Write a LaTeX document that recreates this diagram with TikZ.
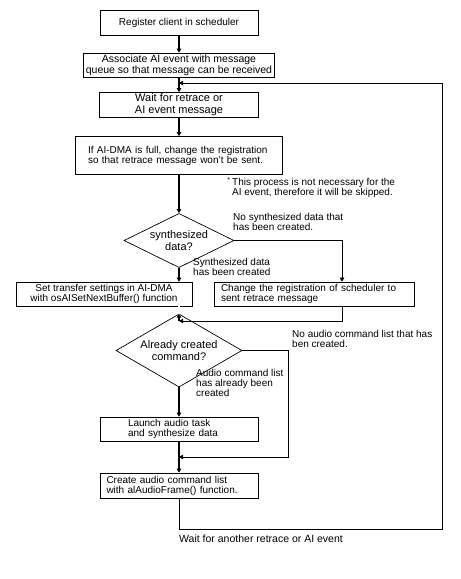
\documentclass[tikz,border=0pt]{standalone}
\usepackage{fontspec}
\setmainfont{Liberation Sans}
\usetikzlibrary{shapes.geometric, arrows.meta}

\begin{document}
\begin{tikzpicture}[x=1pt, y=-1pt,
    box/.style={draw, line width=0.7pt, inner sep=0pt, align=center,
      font=\fontsize{10}{10}\selectfont},
    decision/.style={draw, diamond, line width=0.7pt, inner sep=-6pt, align=center,
      font=\fontsize{11}{12}\selectfont},
    note/.style={anchor=west, align=left, inner sep=0pt,
      font=\fontsize{10}{10}\selectfont},
    flow/.style={line width=1.6pt, -{Triangle[length=4pt,width=4.5pt]}},
    loopline/.style={line width=0.7pt, -{Triangle[length=4pt,width=4.5pt]}}]
      \useasboundingbox (0,0) rectangle (461,579);

      % Main column of steps
      \node[box, minimum width=158, minimum height=25] (reg) at (179,22.5)
        {Register client in scheduler};
      \node[box, minimum width=191, minimum height=24,
        font=\fontsize{10.5}{11}\selectfont] (assoc) at (179,65)
        {Associate AI event with message\\queue so that message can be received};
      \node[box, minimum width=159, minimum height=25,
        font=\fontsize{11}{12}\selectfont] (wait) at (179,105)
        {Wait for retrace or\\AI event message};
      \node[box, minimum width=207, minimum height=38, text width=182, align=left]
        (full) at (179,155.5)
        {If AI-DMA is full, change the registration\\so that retrace message won't be sent.};

      % First decision and its two branches
      \node[decision, minimum width=110, minimum height=45] (syn) at (179,240.5)
        {synthesized\\data?};
      \node[box, minimum width=176, minimum height=24] (set) at (104,294)
        {Set transfer settings in AI-DMA\\with osAISetNextBuffer() function};
      \node[box, minimum width=200, minimum height=24, text width=186, align=left]
        (chg) at (314,294)
        {Change the registration of scheduler to\\sent retrace message};

      % Second decision and the last steps
      \node[decision, minimum width=126, minimum height=47] (cmd) at (179,350.5)
        {Already created\\command?};
      \node[box, minimum width=158, minimum height=24, text width=102, align=left]
        (launch) at (179,429)
        {Launch audio task\\and synthesize data};
      \node[box, minimum width=158, minimum height=25, text width=145, align=left]
        (create) at (179,485.5)
        {Create audio command list\\with alAudioFrame() function.};

      % Notes beside the flow
      \node[note, font=\fontsize{10}{9.5}\selectfont] (skip) at (232,187.5)
        {\llap{\textsuperscript{*}\,}This process is not necessary for the\\AI event, therefore it will be skipped.};
      \node[note] (nosyn) at (233,221.5) {No synthesized data that\\has been created.};
      \node[note] (hassyn) at (193,267) {Synthesized data\\has been created};
      \node[note] (nocmd) at (292,339) {No audio command list that has\\ben created.};
      \node[note] (hascmd) at (196,383) {Audio command list\\has already been\\created};
      \node[note, font=\fontsize{10.5}{11}\selectfont] (again) at (179,539)
        {Wait for another retrace or AI event};

      % Junctions and turning points
      \coordinate (j0) at (179,83);
      \coordinate (j1) at (179,321);
      \coordinate (j2) at (179,457);
      \coordinate (yes) at (342,0);
      \coordinate (no2) at (288,0);
      \coordinate (loop) at (442,529);

      % Connectors
      \draw[flow] (reg) -- (assoc);
      \draw[flow] (assoc) -- (wait);
      \draw[flow] (wait) -- (full);
      \draw[flow] (full) -- (syn);
      \draw[flow] (syn.south) -- (syn.south |- set.north);
      \draw[loopline] (syn.east) -| (yes |- chg.north);
      \draw[double, double distance=1.2pt, line width=0.5pt] (set.south -| j1) -- (j1);
      \draw[loopline] (yes |- chg.south) |- (j1);
      \draw[flow] (j1) -- (cmd.north);
      \draw[flow] (cmd.south) -- (launch.north);
      \draw[loopline] (cmd.east) -| (no2 |- j2) -- (j2);
      \draw[flow] (launch.south) -- (create.north);
      \draw[loopline] (create.south) |- (loop) |- (j0);
    \end{tikzpicture}
\end{document}
